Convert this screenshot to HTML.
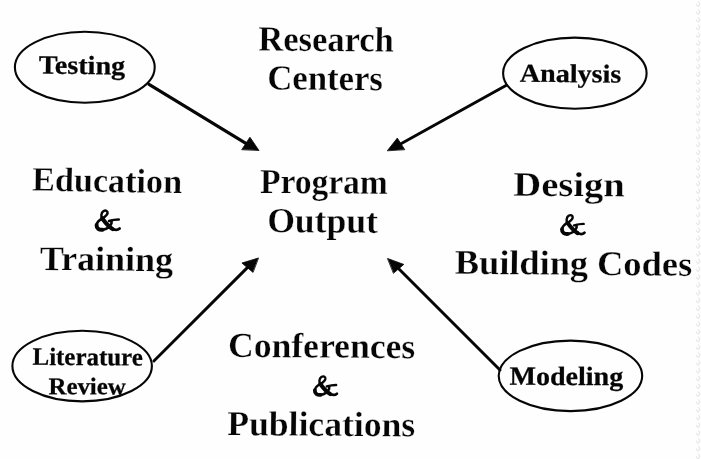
<!DOCTYPE html>
<html><head><meta charset="utf-8"><style>
html,body{margin:0;padding:0;background:#fff;width:701px;height:459px;overflow:hidden}
svg{display:block;filter:grayscale(1)}
</style></head><body>
<svg width="701" height="459" viewBox="0 0 701 459">
<rect width="701" height="459" fill="#fefefe"/>
<defs><pattern id="zz" x="695" y="0" width="6" height="7.8" patternUnits="userSpaceOnUse"><path d="M1,4 L3,6.5 L5,4 M3,1.5 L5,4" stroke="#e4e4e4" stroke-width="1" fill="none"/></pattern></defs><rect x="695" y="0" width="6" height="459" fill="url(#zz)"/>
<g font-family="Liberation Serif" font-weight="bold" fill="#060606" stroke="#fefefe" stroke-width="0.3">
<text transform="translate(258.90 50.50) rotate(0.45) scale(0.9757 1)" x="-0.71" font-size="35.38">Research</text>
<text transform="translate(268.90 89.40) rotate(0.45) scale(0.9822 1)" x="-1.77" font-size="35.38">Centers</text>
<text transform="translate(260.70 192.90) rotate(0.5) scale(0.9548 1)" x="-0.70" font-size="35.08">Program</text>
<text transform="translate(268.90 232.00) rotate(0.45) scale(1.0146 1)" x="-1.75" font-size="35.08">Output</text>
<text transform="translate(32.60 190.60) rotate(1.0) scale(0.9961 1)" x="-0.69" font-size="34.31">Education</text>
<text transform="translate(40.40 269.90) rotate(0.6) scale(1.0345 1)" x="-0.70" font-size="34.77">Training</text>
<text transform="translate(514.10 195.70) rotate(0.4) scale(1.1120 1)" x="-0.69" font-size="34.62">Design</text>
<text transform="translate(455.40 273.80) rotate(0.5) scale(1.0457 1)" x="-0.70" font-size="34.77">Building Codes</text>
<text transform="translate(229.70 356.80) rotate(0.45) scale(1.0154 1)" x="-1.75" font-size="35.08">Conferences</text>
<text transform="translate(227.90 435.10) rotate(0.4) scale(1.0200 1)" x="-0.70" font-size="34.92">Publications</text>
<text stroke="#060606" stroke-width="0.25" transform="translate(39.20 73.60) rotate(0.55) scale(1.0691 1)" x="-0.53" font-size="26.31">Testing</text>
<text stroke="#060606" stroke-width="0.25" transform="translate(520.00 81.70) rotate(0.5) scale(1.0883 1)" x="-0.26" font-size="25.85">Analysis</text>
<text stroke="#060606" stroke-width="0.25" transform="translate(33.00 364.80) rotate(0.35) scale(0.9942 1)" x="-0.50" font-size="25.08">Literature</text>
<text stroke="#060606" stroke-width="0.25" transform="translate(48.90 394.20) rotate(0.2) scale(1.0376 1)" x="-0.48" font-size="24.00">Review</text>
<text stroke="#060606" stroke-width="0.25" transform="translate(510.00 384.80) rotate(0.2) scale(1.0604 1)" x="-0.53" font-size="26.46">Modeling</text>
<g transform="translate(92.00 205.00) rotate(0.5) scale(1.000)"><g fill="none" stroke="#060606" stroke-linecap="round">
<path d="M10.4,13.6 C8.8,11.8 9.2,7.6 11.4,6.1 C13.5,4.8 16,5.5 15.6,8.2 C15.2,10.4 12.6,12 10.4,13.6" stroke-width="2.5"/>
<path d="M10.4,13.4 C7.4,15 5,17.2 4.8,20" stroke-width="2.6"/>
<path d="M4.8,20 C4.6,23.4 7.4,25.1 10.8,24.7" stroke-width="4.0"/>
<path d="M10.8,24.7 C14.6,24.2 18.2,21.6 19.6,18.4 L19.7,15.6" stroke-width="2.6"/>
<path d="M10.4,13.4 C13.4,17.4 16.8,21.6 20.8,23.8" stroke-width="4.2"/>
<path d="M20.8,23.8 C23.6,25.1 26.2,24.8 27.8,23.3" stroke-width="2.8"/>
<path d="M17.2,15.9 C20.4,14.9 24,14.3 26.9,14.3" stroke-width="2.5"/>
</g></g>
<g transform="translate(557.48 209.68) rotate(0.5) scale(0.978)"><g fill="none" stroke="#060606" stroke-linecap="round">
<path d="M10.4,13.6 C8.8,11.8 9.2,7.6 11.4,6.1 C13.5,4.8 16,5.5 15.6,8.2 C15.2,10.4 12.6,12 10.4,13.6" stroke-width="2.5"/>
<path d="M10.4,13.4 C7.4,15 5,17.2 4.8,20" stroke-width="2.6"/>
<path d="M4.8,20 C4.6,23.4 7.4,25.1 10.8,24.7" stroke-width="4.0"/>
<path d="M10.8,24.7 C14.6,24.2 18.2,21.6 19.6,18.4 L19.7,15.6" stroke-width="2.6"/>
<path d="M10.4,13.4 C13.4,17.4 16.8,21.6 20.8,23.8" stroke-width="4.2"/>
<path d="M20.8,23.8 C23.6,25.1 26.2,24.8 27.8,23.3" stroke-width="2.8"/>
<path d="M17.2,15.9 C20.4,14.9 24,14.3 26.9,14.3" stroke-width="2.5"/>
</g></g>
<g transform="translate(310.44 371.05) rotate(0.5) scale(0.960)"><g fill="none" stroke="#060606" stroke-linecap="round">
<path d="M10.4,13.6 C8.8,11.8 9.2,7.6 11.4,6.1 C13.5,4.8 16,5.5 15.6,8.2 C15.2,10.4 12.6,12 10.4,13.6" stroke-width="2.5"/>
<path d="M10.4,13.4 C7.4,15 5,17.2 4.8,20" stroke-width="2.6"/>
<path d="M4.8,20 C4.6,23.4 7.4,25.1 10.8,24.7" stroke-width="4.0"/>
<path d="M10.8,24.7 C14.6,24.2 18.2,21.6 19.6,18.4 L19.7,15.6" stroke-width="2.6"/>
<path d="M10.4,13.4 C13.4,17.4 16.8,21.6 20.8,23.8" stroke-width="4.2"/>
<path d="M20.8,23.8 C23.6,25.1 26.2,24.8 27.8,23.3" stroke-width="2.8"/>
<path d="M17.2,15.9 C20.4,14.9 24,14.3 26.9,14.3" stroke-width="2.5"/>
</g></g>
</g>
<g fill="none" stroke="#060606" stroke-width="2.1"><ellipse cx="84.8" cy="67.2" rx="69.9" ry="35.5"/><ellipse cx="574.85" cy="73.15" rx="71.75" ry="35.55"/><ellipse cx="82.15" cy="366.1" rx="69.75" ry="35.3"/><ellipse cx="570.45" cy="375.85" rx="71.75" ry="35.25"/></g>
<g stroke="#060606" stroke-width="2.9" stroke-linecap="round" fill="#060606" stroke-linejoin="round"><line stroke-width="3.2" x1="149" y1="84.3" x2="245.90" y2="143.30"/><polygon stroke-width="0.8" points="258.8,150.2 249.9,137.2 241.9,149.4"/><line stroke-width="3.0" x1="506.4" y1="85.2" x2="400.95" y2="143.75"/><polygon stroke-width="0.8" points="387.5,150.5 397.3,138.1 404.6,149.4"/><line stroke-width="2.9" x1="153.9" y1="361.0" x2="247.35" y2="267.60"/><polygon stroke-width="0.8" points="258.2,258.1 241.9,263.0 252.8,272.2"/><line stroke-width="3.0" x1="500.0" y1="370.0" x2="398.75" y2="268.75"/><polygon stroke-width="0.8" points="387.8,258.6 403.8,264.4 393.7,273.1"/></g>
</svg>
</body></html>
